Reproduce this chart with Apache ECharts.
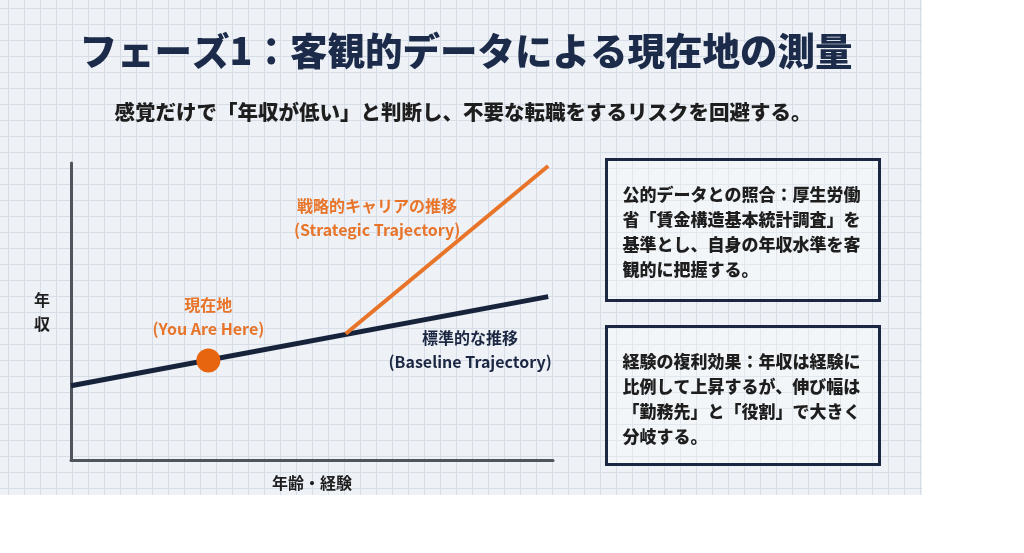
<!DOCTYPE html>
<html>
<head>
<meta charset="utf-8">
<script src="https://cdn.jsdelivr.net/npm/echarts@6/dist/echarts.min.js"></script>
<style>
html, body { margin: 0; padding: 0; background: #fff; }
#paper {
	position: absolute; left: 0; top: 0; width: 922px; height: 495px;
	background-color: #eef2f6;
	background-image: linear-gradient(to right, #d6dde6 1px, transparent 1px),
		linear-gradient(to bottom, #d6dde6 1px, transparent 1px);
	background-size: 16px 16px;
	background-position: 8px 8px;
}
#main { position: absolute; left: 0; top: 0; width: 1024px; height: 553px; }
</style>
</head>
<body>
<div id="paper"></div>
<div id="main"></div>
<script>
// 年収の推移（概念図、単位なし）
var baseline = [[0, 2.5], [9.9, 5.5]];
var strategic = [[5.7, 4.25], [9.9, 9.9]];
var youAreHere = [[2.85, 3.35]];
// 注記ラベルの位置（データ座標）
var notes = [
	{ value: [6.35, 8.15], text: '戦略的キャリアの推移\n(Strategic Trajectory)', color: '#e8742a' },
	{ value: [8.28, 3.72], text: '標準的な推移\n(Baseline Trajectory)', color: '#1b2742' }
];
var box1 = ['公的データとの照合：厚生労働', '省「賃金構造基本統計調査」を', '基準とし、自身の年収水準を客', '観的に把握する。'];
var box2 = ['経験の複利効果：年収は経験に', '比例して上昇するが、伸び幅は', '「勤務先」と「役割」で大きく', '分岐する。'];

var FONT = '"Noto Sans CJK JP", "Noto Sans", sans-serif';
var myChart = echarts.init(document.getElementById('main'));

function box(top, lines) {
	return {
		type: 'group', left: 605, top: top,
		children: [{
			type: 'rect', shape: { x: 0, y: 0, width: 273, height: top == 158 ? 141 : 138 },
			style: { fill: 'rgba(255,255,255,0.3)', stroke: '#1b2742', lineWidth: 3 }
		}, {
			type: 'text', x: 16, y: 23,
			style: {
				text: lines.join('\n'), font: '900 17px ' + FONT, fill: '#1e1e1e', lineHeight: 25
			}
		}]
	};
}

var option = {
	backgroundColor: 'transparent',
	textStyle: { fontFamily: FONT },
	title: [{
		text: 'フェーズ1：客観的データによる現在地の測量',
		left: 461, top: 27, textAlign: 'center',
		textStyle: { fontSize: 37.5, fontWeight: 900, color: '#1c2b4a', fontFamily: FONT }
	}, {
		text: '感覚だけで「年収が低い」と判断し、不要な転職をするリスクを回避する。',
		left: 458, top: 97, textAlign: 'center',
		textStyle: { fontSize: 20.5, fontWeight: 900, color: '#1e1e1e', fontFamily: FONT }
	}],
	grid: { left: 71, right: 471, top: 163, bottom: 93 },
	xAxis: {
		type: 'value', min: 0, max: 10,
		name: '年齢・経験', nameLocation: 'middle', nameGap: 15,
		nameTextStyle: { fontSize: 16, fontWeight: 'bold', color: '#1e1e1e' },
		axisLine: { show: true, onZero: false, lineStyle: { color: '#50555d', width: 3 } },
		axisTick: { show: false }, axisLabel: { show: false }, splitLine: { show: false }
	},
	yAxis: {
		type: 'value', min: 0, max: 10,
		name: '年\n収', nameLocation: 'middle', nameGap: 21, nameRotate: 0,
		nameTextStyle: { fontSize: 16, fontWeight: 'bold', color: '#1e1e1e', lineHeight: 24 },
		axisLine: { show: true, lineStyle: { color: '#50555d', width: 3 } },
		axisTick: { show: false }, axisLabel: { show: false }, splitLine: { show: false }
	},
	series: [{
		name: '標準的な推移', type: 'line', data: baseline,
		symbol: 'none', lineStyle: { color: '#17233b', width: 5 }, z: 2
	}, {
		name: '戦略的キャリアの推移', type: 'line', data: strategic,
		symbol: 'none', lineStyle: { color: '#e8742a', width: 4 }, z: 3
	}, {
		name: '現在地', type: 'scatter', data: youAreHere,
		symbolSize: 24, itemStyle: { color: '#e8650f', opacity: 1 }, z: 4,
		label: {
			show: true, position: 'top', distance: 8,
			formatter: '現在地\n(You Are Here)',
			fontSize: 16, fontWeight: 'bold', color: '#e8742a', lineHeight: 24, fontFamily: FONT
		}
	}, {
		name: 'notes', type: 'scatter', symbolSize: 0, silent: true,
		itemStyle: { opacity: 1 },
		data: notes.map(function (n) {
			return {
				value: n.value,
				label: {
					show: true, position: 'inside', formatter: n.text, color: n.color,
					fontSize: 16, fontWeight: 'bold', lineHeight: 24, fontFamily: FONT
				}
			};
		})
	}],
	graphic: [box(158, box1), box(325, box2)]
};
myChart.setOption(option);
window.addEventListener('resize', function () {
	myChart.resize();
});
</script>
</body>
</html>
